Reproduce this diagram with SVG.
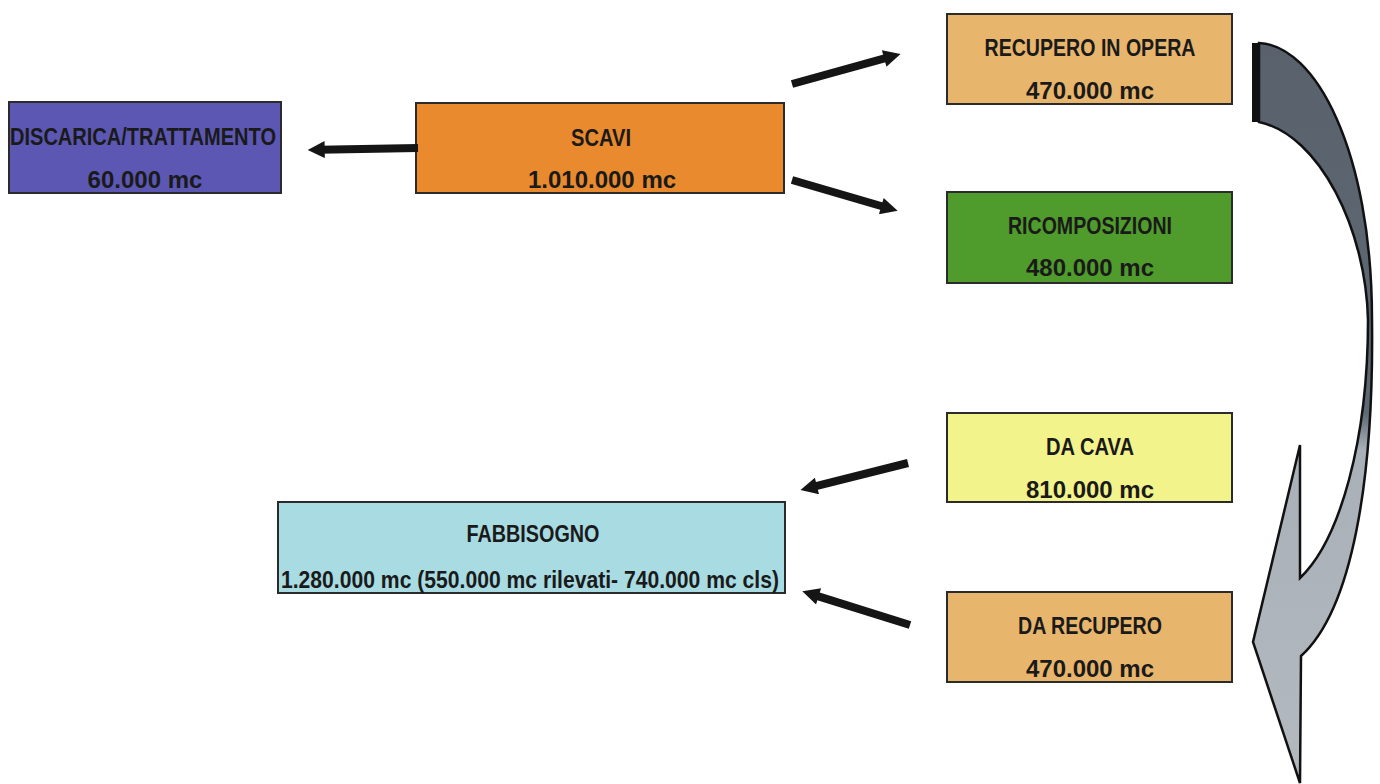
<svg xmlns="http://www.w3.org/2000/svg" width="1380" height="784" viewBox="0 0 1380 784">
<style>
.box{stroke:#2b2b2b;stroke-width:2}
.t{font-family:"Liberation Sans",Arial,sans-serif;font-weight:bold;font-size:24px;fill:#1a1a1a;text-anchor:middle}
.arr{stroke:#151515;stroke-width:8;fill:none;marker-end:url(#ah)}
</style>
<defs>
<marker id="ah" viewBox="0 0 10 10" refX="3" refY="5" markerUnits="userSpaceOnUse" markerWidth="28" markerHeight="17" orient="auto">
<path d="M0,0 L10,5 L0,10 z" fill="#151515"/>
</marker>
<linearGradient id="cg" x1="0" y1="0" x2="0" y2="1" gradientUnits="objectBoundingBox">
<stop offset="0" stop-color="#58616c"/>
<stop offset="0.5" stop-color="#5f6974"/>
<stop offset="0.55" stop-color="#a9b0b7"/>
<stop offset="1" stop-color="#b3b9bf"/>
</linearGradient>
</defs>
<rect width="1380" height="784" fill="#ffffff"/>

<g id="discarica">
<rect class="box" x="9" y="102" width="272" height="91" fill="#5b57b2"/>
<text class="t" x="143" y="145" textLength="266" lengthAdjust="spacingAndGlyphs">DISCARICA/TRATTAMENTO</text>
<text class="t" x="145" y="188">60.000 mc</text>
</g>
<g id="scavi">
<rect class="box" x="416" y="103" width="368" height="90" fill="#e98a2e"/>
<text class="t" x="601" y="146" textLength="60" lengthAdjust="spacingAndGlyphs">SCAVI</text>
<text class="t" x="602" y="188">1.010.000 mc</text>
</g>
<g id="recupero-in-opera">
<rect class="box" x="947" y="14" width="285" height="90" fill="#e8b56c"/>
<text class="t" x="1090" y="56" textLength="211" lengthAdjust="spacingAndGlyphs">RECUPERO IN OPERA</text>
<text class="t" x="1090" y="99">470.000 mc</text>
</g>
<g id="ricomposizioni">
<rect class="box" x="947" y="192" width="285" height="91" fill="#4f9b2c"/>
<text class="t" x="1090" y="234" textLength="164" lengthAdjust="spacingAndGlyphs">RICOMPOSIZIONI</text>
<text class="t" x="1090" y="276">480.000 mc</text>
</g>
<g id="da-cava">
<rect class="box" x="947" y="413" width="285" height="89" fill="#f3f38c"/>
<text class="t" x="1090" y="455" textLength="88" lengthAdjust="spacingAndGlyphs">DA CAVA</text>
<text class="t" x="1090" y="498">810.000 mc</text>
</g>
<g id="da-recupero">
<rect class="box" x="947" y="592" width="285" height="90" fill="#e8b56c"/>
<text class="t" x="1090" y="634" textLength="144" lengthAdjust="spacingAndGlyphs">DA RECUPERO</text>
<text class="t" x="1090" y="677">470.000 mc</text>
</g>
<g id="fabbisogno">
<rect class="box" x="278" y="502" width="507" height="91" fill="#a8dbe2"/>
<text class="t" x="533" y="542" textLength="133" lengthAdjust="spacingAndGlyphs">FABBISOGNO</text>
<text class="t" x="530" y="588" textLength="498" lengthAdjust="spacingAndGlyphs">1.280.000 mc (550.000 mc rilevati- 740.000 mc  cls)</text>
</g>

<g id="connectors">
<line class="arr" x1="418" y1="148" x2="319.6" y2="149.7"/>
<line class="arr" x1="792" y1="84" x2="889.1" y2="57.2"/>
<line class="arr" x1="792" y1="180" x2="886.2" y2="207.5"/>
<line class="arr" x1="908" y1="463" x2="812" y2="487.2"/>
<line class="arr" x1="910" y1="625" x2="813.7" y2="594.9"/>
<g id="curved-arrow">
<path d="M1259,43 C1315,45 1372,150 1372,320 C1374,480 1352,610 1301,656 L1300,783 L1253,642 L1300,445 L1300,578 C1340,540 1368,440 1368,320 C1366,230 1320,135 1259,122 Z" fill="url(#cg)" stroke="#111" stroke-width="2.5" stroke-linejoin="miter"/>
<rect x="1252" y="43" width="7" height="79" fill="#111"/>
</g>
</g>
</svg>
